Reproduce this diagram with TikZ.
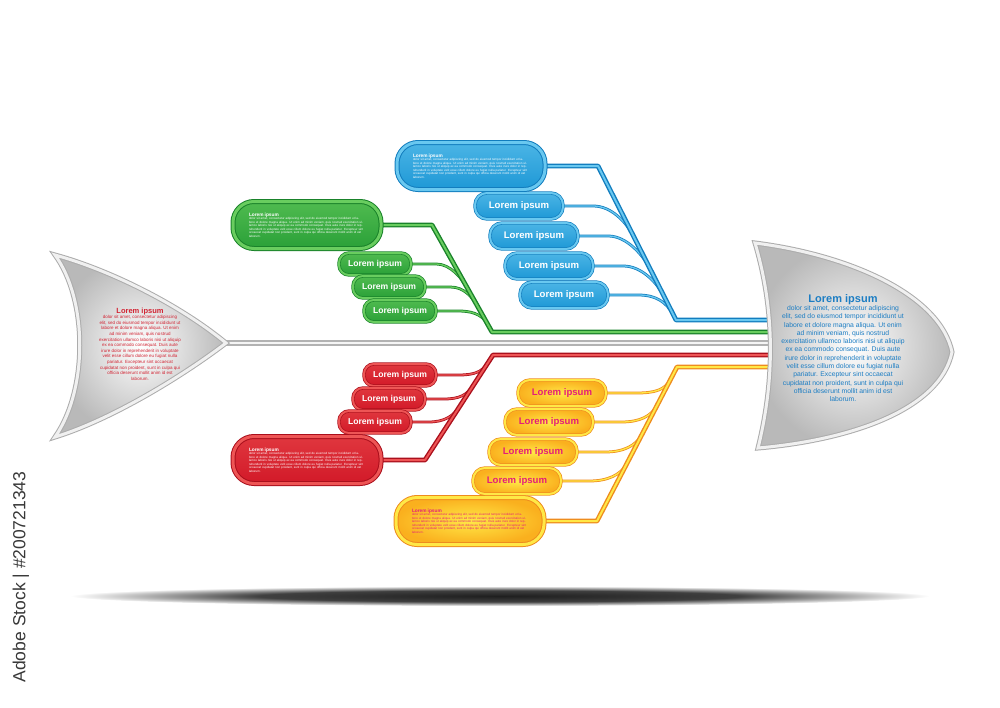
\documentclass[tikz,border=0pt]{standalone}
\usepackage{fontspec}
\setmainfont{Liberation Sans}
\usepackage{xcolor}
\usetikzlibrary{calc,positioning,backgrounds}

\definecolor{blueM}{RGB}{30,152,214}
\definecolor{blueL}{RGB}{105,200,240}
\definecolor{blueD}{RGB}{18,125,190}
\definecolor{greenM}{RGB}{42,160,56}
\definecolor{greenL}{RGB}{105,205,95}
\definecolor{greenD}{RGB}{25,130,42}
\definecolor{redM}{RGB}{210,25,40}
\definecolor{redL}{RGB}{238,85,85}
\definecolor{redD}{RGB}{170,15,28}
\definecolor{yelM}{RGB}{250,176,30}
\definecolor{yelL}{RGB}{255,232,70}
\definecolor{yelD}{RGB}{238,140,30}
\definecolor{pinkT}{RGB}{228,30,120}
\definecolor{headT}{RGB}{28,125,195}
\definecolor{tailT}{RGB}{210,35,50}

\pgfdeclareradialshading{floorshadow}{\pgfpoint{0bp}{0bp}}{color(0bp)=(black!88); color(14bp)=(black!75); color(25bp)=(white); color(50bp)=(white)}

\newcommand{\loremlong}{dolor sit amet, consectetur adipiscing elit, sed do eiusmod tempor incididunt ut labore et dolore magna aliqua. Ut enim ad minim veniam, quis nostrud exercitation ullamco laboris nisi ut aliquip ex ea commodo consequat. Duis aute irure dolor in reprehenderit in voluptate velit esse cillum dolore eu fugiat nulla pariatur. Excepteur sint occaecat cupidatat non proident, sunt in culpa qui officia deserunt mollit anim id est laborum.}
\newcommand{\loremlines}{dolor sit amet, consectetur adipiscing\\ elit, sed do eiusmod tempor incididunt ut\\ labore et dolore magna aliqua. Ut enim\\ ad minim veniam, quis nostrud\\ exercitation ullamco laboris nisi ut aliquip\\ ex ea commodo consequat. Duis aute\\ irure dolor in reprehenderit in voluptate\\ velit esse cillum dolore eu fugiat nulla\\ pariatur. Excepteur sint occaecat\\ cupidatat non proident, sunt in culpa qui\\ officia deserunt mollit anim id est\\ laborum.}

\begin{document}
\begin{tikzpicture}[x=1pt, y=-1pt,
    bone/.style={line width=1.4pt, double distance=2pt, line join=round},
    twig/.style={line width=0.75pt, double distance=1.3pt},
    spine/.style={draw=gray!60, double=gray!8, line width=1.5pt, double distance=2.6pt},
    fishend/.style={draw=gray!65, double=gray!12, line width=1pt, double distance=3pt, inner color=white, outer color=gray!55},
    pill/.style={rounded corners=12pt, minimum width=88pt, minimum height=26pt, inner sep=0pt, line width=0.7pt, double distance=2pt, font=\bfseries\fontsize{9.6}{10}\selectfont},
    smallpill/.style={pill, rounded corners=10pt, minimum width=72pt, minimum height=22pt, font=\bfseries\fontsize{8.6}{9}\selectfont},
    bigpill/.style={rounded corners=21pt, minimum width=148pt, minimum height=47pt, inner sep=0pt, line width=1pt, double distance=3pt, text width=116pt, align=left, font=\fontsize{3}{3.5}\selectfont},
    bluepill/.style={draw=blueD, double=blueL, top color=blueL!60!blueM, bottom color=blueM, text=white},
    greenpill/.style={draw=greenD, double=greenL, top color=greenL!60!greenM, bottom color=greenM, text=white},
    redpill/.style={draw=redD, double=redL, top color=redL!50!redM, bottom color=redM, text=white},
    yelpill/.style={draw=yelD, double=yelL, inner color=yelL, outer color=yelM, text=pinkT}
  ]
  \useasboundingbox (0,0) rectangle (1000,707);

  \shade[shading=floorshadow] (500,596) ellipse (430 and 10);

  \coordinate (bluetop) at (598,166);
  \coordinate (bluebot) at (676,320);
  \coordinate (bluehead) at (772,320);
  \coordinate (greentop) at (432,225);
  \coordinate (greenbot) at (492,332);
  \coordinate (greenhead) at (772,332);
  \coordinate (redhead) at (772,355);
  \coordinate (redtop) at (493,355);
  \coordinate (redbot) at (425,460);
  \coordinate (yelhead) at (772,367);
  \coordinate (yeltop) at (677,367);
  \coordinate (yelbot) at (597,521);
  \coordinate (tailtip) at (222,343);
  \coordinate (spineend) at (772,343);

  \node[bigpill, bluepill] (bluebig) at (471,166) {{\bfseries\fontsize{4.8}{5.5}\selectfont Lorem ipsum}\\ \loremlong};
  \node[bigpill, greenpill] (greenbig) at (307,225) {{\bfseries\fontsize{4.8}{5.5}\selectfont Lorem ipsum}\\ \loremlong};
  \node[bigpill, redpill] (redbig) at (307,460) {{\bfseries\fontsize{4.8}{5.5}\selectfont Lorem ipsum}\\ \loremlong};
  \node[bigpill, yelpill] (yelbig) at (470,521) {{\bfseries\fontsize{4.8}{5.5}\selectfont Lorem ipsum}\\ \loremlong};

  \node[pill, bluepill] (blue1) at (519,206) {Lorem ipsum};
  \node[pill, bluepill] (blue2) at (534,236) {Lorem ipsum};
  \node[pill, bluepill] (blue3) at (549,266) {Lorem ipsum};
  \node[pill, bluepill] (blue4) at (564,295) {Lorem ipsum};
  \node[smallpill, greenpill] (green1) at (375,264) {Lorem ipsum};
  \node[smallpill, greenpill] (green2) at (389,287) {Lorem ipsum};
  \node[smallpill, greenpill] (green3) at (400,311) {Lorem ipsum};
  \node[smallpill, redpill] (red1) at (400,375) {Lorem ipsum};
  \node[smallpill, redpill] (red2) at (389,399) {Lorem ipsum};
  \node[smallpill, redpill] (red3) at (375,422) {Lorem ipsum};
  \node[pill, yelpill] (yel1) at (562,393) {Lorem ipsum};
  \node[pill, yelpill] (yel2) at (549,422) {Lorem ipsum};
  \node[pill, yelpill] (yel3) at (533,452) {Lorem ipsum};
  \node[pill, yelpill] (yel4) at (517,481) {Lorem ipsum};

  \begin{scope}[on background layer]
    \draw[twig, draw=blueD, double=blueL] (blue1.east) -- ++(30,0) .. controls +(18,0) and +(-7,-13) .. ($(bluetop)!0.45!(bluebot)$);
    \draw[twig, draw=blueD, double=blueL] (blue2.east) -- ++(30,0) .. controls +(18,0) and +(-7,-13) .. ($(bluetop)!0.66!(bluebot)$);
    \draw[twig, draw=blueD, double=blueL] (blue3.east) -- ++(30,0) .. controls +(18,0) and +(-7,-13) .. ($(bluetop)!0.84!(bluebot)$);
    \draw[twig, draw=blueD, double=blueL] (blue4.east) -- ++(30,0) .. controls +(18,0) and +(-7,-13) .. ($(bluetop)!0.97!(bluebot)$);
    \draw[twig, draw=greenD, double=greenL] (green1.east) -- ++(25,0) .. controls +(14,0) and +(-6,-11) .. ($(greentop)!0.6!(greenbot)$);
    \draw[twig, draw=greenD, double=greenL] (green2.east) -- ++(25,0) .. controls +(14,0) and +(-6,-11) .. ($(greentop)!0.78!(greenbot)$);
    \draw[twig, draw=greenD, double=greenL] (green3.east) -- ++(22,0) .. controls +(12,0) and +(-6,-11) .. ($(greentop)!0.93!(greenbot)$);
    \draw[twig, draw=redD, double=redL] (red1.east) -- ++(22,0) .. controls +(15,0) and +(-6,9) .. ($(redtop)!0.08!(redbot)$);
    \draw[twig, draw=redD, double=redL] (red2.east) -- ++(18,0) .. controls +(16,0) and +(-7,11) .. ($(redtop)!0.28!(redbot)$);
    \draw[twig, draw=redD, double=redL] (red3.east) -- ++(17,0) .. controls +(16,0) and +(-7,11) .. ($(redtop)!0.48!(redbot)$);
    \draw[twig, draw=yelD, double=yelL] (yel1.east) -- ++(30,0) .. controls +(18,0) and +(-6,11) .. ($(yeltop)!0.08!(yelbot)$);
    \draw[twig, draw=yelD, double=yelL] (yel2.east) -- ++(28,0) .. controls +(18,0) and +(-6,11) .. ($(yeltop)!0.25!(yelbot)$);
    \draw[twig, draw=yelD, double=yelL] (yel3.east) -- ++(28,0) .. controls +(18,0) and +(-6,11) .. ($(yeltop)!0.44!(yelbot)$);
    \draw[twig, draw=yelD, double=yelL] (yel4.east) -- ++(28,0) .. controls +(18,0) and +(-6,11) .. ($(yeltop)!0.63!(yelbot)$);

    \draw[bone, draw=blueD, double=blueL] (bluebig.east) -- (bluetop) -- (bluebot) -- (bluehead);
    \draw[bone, draw=greenD, double=greenL] (greenbig.east) -- (greentop) -- (greenbot) -- (greenhead);
    \draw[bone, draw=redD, double=redL] (redhead) -- (redtop) -- (redbot) -- (redbig.east);
    \draw[bone, draw=yelD, double=yelL] (yelhead) -- (yeltop) -- (yelbot) -- (yelbig.east);
  \end{scope}
  \draw[spine] (tailtip) -- (spineend);

  \draw[fishend] (755,243) .. controls (850,255) and (940,295) .. (952,352)
    .. controls (940,410) and (850,440) .. (758,448)
    .. controls (775,380) and (775,310) .. cycle;
  \draw[fishend] (55,255) .. controls (110,270) and (180,305) .. (226,343)
    .. controls (180,378) and (110,420) .. (55,437)
    .. controls (88,390) and (88,300) .. cycle;

  \node[text=headT, align=center, font=\fontsize{6.8}{8.3}\selectfont] (headtext) at (843,348) {{\bfseries\fontsize{11}{12}\selectfont Lorem ipsum}\\ \loremlines};
  \node[text=tailT, align=center, font=\fontsize{4.5}{5.6}\selectfont] (tailtext) at (140,344) {{\bfseries\fontsize{7.5}{8}\selectfont Lorem ipsum}\\ \loremlines};

  \node[rotate=90, text=black!78, font=\fontsize{17.5}{18}\selectfont] (stockid) at (21,577) {Adobe Stock | \#200721343};
\end{tikzpicture}
\end{document}
